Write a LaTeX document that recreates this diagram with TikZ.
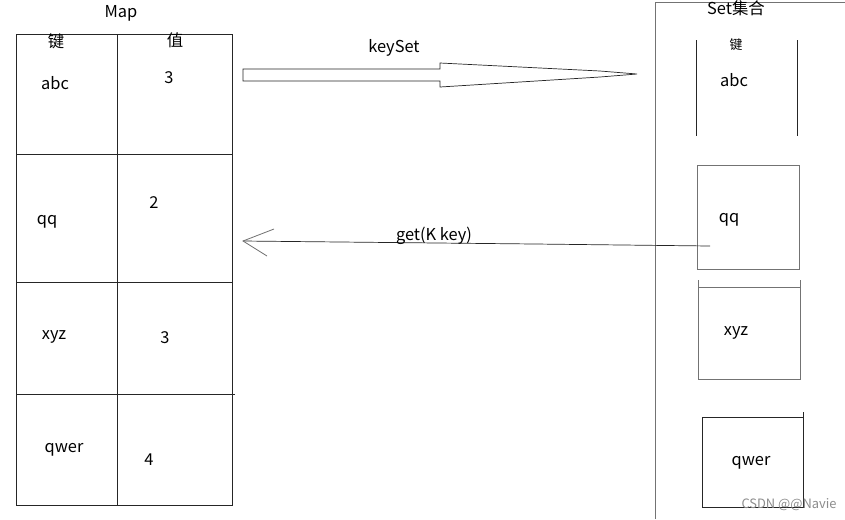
\documentclass[tikz,border=0pt]{standalone}
\usepackage{fontspec}
\setmainfont{Noto Sans CJK SC}
\tikzset{
	cell/.style={font=\fontsize{14}{16}\selectfont, inner sep=0pt},
	small/.style={font=\fontsize{11}{13}\selectfont, inner sep=0pt},
	grid line/.style={line width=0.6pt, black!85},
	soft line/.style={line width=0.7pt, black!55},
}
\begin{document}
\begin{tikzpicture}[x=0.03cm, y=-0.03cm]
		\useasboundingbox (0,0) rectangle (845,519);
		
		% Map table
		\node[cell] (maptitle) at (121,13) {Map};
		\draw[grid line] (16,34) rectangle (232,505);
		\draw[grid line] (117,34) -- (117,505);
		\draw[grid line] (16,154) -- (232,154);
		\draw[grid line] (16,282) -- (232,282);
		\draw[grid line] (16,394) -- (235,394);
		\node[cell] (keyhead) at (56,41) {键};
		\node[cell] (valhead) at (175,40) {值};
		\node[cell] (k1) at (55,83) {abc};
		\node[cell] (v1) at (169,78) {3};
		\node[cell] (k2) at (47,222) {qq};
		\node[cell] (v2) at (154,203) {2};
		\node[cell] (k3) at (54,337) {xyz};
		\node[cell] (v3) at (165,338) {3};
		\node[cell] (k4) at (64,450) {qwer};
		\node[cell] (v4) at (149,460) {4};
		
		% keySet arrow
		\coordinate (mapout) at (243,75);
		\coordinate (setin) at (637,74);
		\draw[grid line] (mapout) |- ++(0,-6) -- (440,69) -- (440,63) -- (600,71) -- (setin)
			-- (600,77) -- (440,87) -- (440,81) -| (mapout);
		\node[cell] (keyset) at (394,48) {keySet};
		
		% Set box
		\draw[soft line] (655,519) -- (655,2) -- (845,2);
		\node[cell] (settitle) at (736,8) {Set集合};
		\draw[grid line] (696,40) -- (696,136);
		\draw[grid line] (797,40) -- (797,136);
		\node[small] (setkey) at (736,45) {键};
		\node[cell] (s1) at (734,80) {abc};
		\draw[soft line] (697,165) rectangle (799,269);
		\node[cell] (s2) at (729,220) {qq};
		\draw[soft line] (698,287) rectangle (800,379);
		\draw[soft line] (698,280) -- (698,287) (800,280) -- (800,287);
		\node[cell] (s3) at (736,333) {xyz};
		\draw[grid line] (702,417) rectangle (803,507);
		\draw[grid line] (803,412) -- (803,417);
		\node[cell] (s4) at (751,463) {qwer};
		
		% get arrow
		\coordinate (setout) at (710,246);
		\coordinate (mapin) at (243,241);
		\draw[grid line] (setout) -- (535,244) -- (mapin);
		\draw[soft line] (274,229) -- (mapin) -- (267,256);
		\node[cell] (getkey) at (434,236) {get(K key)};
		
		% watermark
		\node[small, black!45] (mark) at (789,505) {CSDN @@Navie};
	\end{tikzpicture}
\end{document}
